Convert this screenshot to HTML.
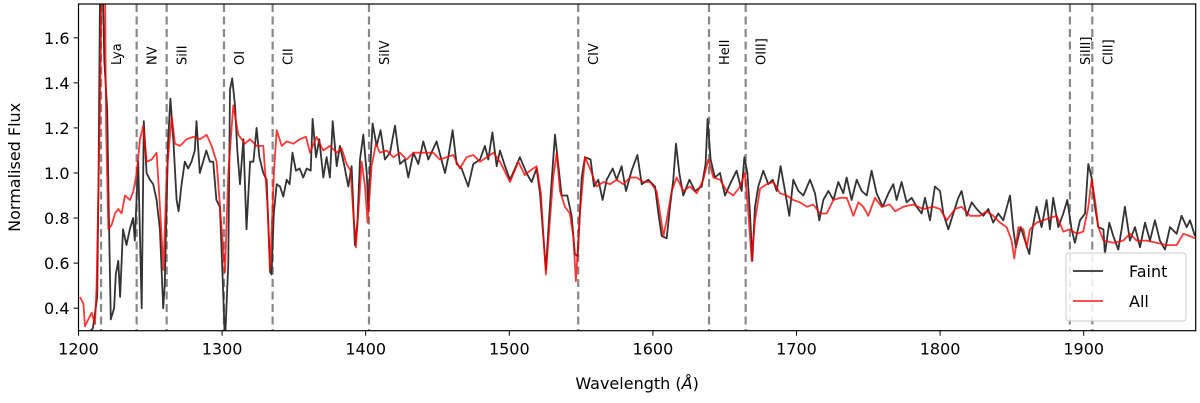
<!DOCTYPE html>
<html><head><meta charset="utf-8"><style>
html,body{margin:0;padding:0;background:#fff;}
svg{display:block;font-family:"DejaVu Sans","Liberation Sans",sans-serif;}
</style></head><body>
<svg id="chart" width="1200" height="403" viewBox="0 0 1200 403" xmlns="http://www.w3.org/2000/svg">
<defs><clipPath id="plotclip"><rect x="78.5" y="4" width="1117.2" height="326.7"/></clipPath></defs>
<g id="lines-layer"></g>
<g id="series-layer" clip-path="url(#plotclip)"></g>
<g id="axes-layer"></g>
</svg>
<script>
const xDomain = [1200, 1978];
const yDomain = [0.30, 1.75];
const xTicks = [1200, 1300, 1400, 1500, 1600, 1700, 1800, 1900];
const yTicks = [0.4, 0.6, 0.8, 1.0, 1.2, 1.4, 1.6];
const lineNames = ["Lya","NV","SiII","OI","CII","SiIV","CIV","HeII","OIII]","SiIII]","CIII]"];
const lineWaves = [1215.7,1240.5,1261.4,1301.3,1335.2,1402.3,1548,1639.1,1664.6,1890.4,1906];
const faintWave = [1200,1205,1210,1213,1214,1215,1217,1218,1220,1221,1222.5,1224.8,1226,1227.7,1229,1231,1233.4,1235.7,1238,1239.2,1241.6,1244,1245.5,1247.4,1249.7,1252,1254.4,1256.7,1259,1260,1262.5,1264,1266,1268.3,1269.7,1271.8,1274,1276.4,1278.7,1281,1282.2,1284.5,1286.8,1289,1291.5,1293.8,1296,1298.5,1300.3,1302,1304.3,1305.5,1307,1309,1310.6,1312.5,1314.8,1317,1319.5,1321.8,1324,1326,1328.7,1331,1333.4,1334.5,1336,1338,1340.3,1342.6,1345,1347,1349,1351.4,1354,1356.5,1358.9,1361.7,1363,1365.4,1367.7,1370.5,1372.8,1375.1,1377,1379.8,1382,1384.9,1387.9,1390.2,1392.5,1394.2,1396,1398.3,1400.7,1401.8,1403,1404.8,1407.6,1410.4,1413.4,1416.9,1420.4,1423.9,1427.3,1429.7,1433.2,1436.6,1440.1,1443.6,1449.4,1455.2,1457.5,1460.5,1463.3,1466.8,1471.4,1474.9,1479.6,1483,1485.4,1488.2,1491.2,1493.5,1497,1500.5,1504,1507.4,1512,1515.5,1519,1521.4,1523.7,1525.5,1527.9,1530.2,1531.8,1533.7,1536.4,1540.4,1543.4,1545.7,1547.6,1550.4,1552.7,1556.6,1559,1562,1565,1567.8,1572,1574.8,1578.2,1581.3,1585.2,1589.2,1592.2,1596.8,1601.5,1603.8,1606.1,1609.6,1611.9,1614.2,1616.1,1618.4,1621.2,1625.4,1629.3,1634,1636.7,1638.1,1640.2,1643.2,1646.7,1650.2,1653.7,1658.3,1661.8,1663.7,1665.8,1667.6,1669.2,1671.1,1673.4,1676.9,1680.4,1683.4,1686.2,1688.9,1692,1695,1697.8,1701.3,1704.8,1709.4,1712.9,1715.9,1718.7,1722.2,1725.7,1729.1,1732.6,1734.9,1738.4,1741.9,1745.4,1748.9,1752.3,1755.8,1760,1764,1767.4,1769.7,1773.2,1776.7,1780.2,1783.7,1787.1,1789.5,1793,1796.4,1799.9,1802.2,1805.7,1809.2,1812.7,1815,1818.5,1822,1825.5,1830.1,1833.6,1837,1840.5,1844,1848.7,1851,1852.8,1856.1,1859.1,1862.1,1864.5,1867.2,1870.7,1874.2,1876.5,1878.8,1882.3,1885.8,1888.6,1891.6,1893.9,1897.4,1900.9,1903.2,1905.5,1907.9,1910.2,1913.7,1914.8,1917.8,1920.6,1924.1,1926.4,1928.7,1932.2,1935.7,1939.2,1942.7,1946.2,1949.6,1953.1,1956.6,1960.1,1964.7,1968.2,1971.7,1974,1977.5];
const faintFlux = [0.29,0.28,0.31,0.45,1.0,1.8,1.8,1.5,1.28,0.85,0.35,0.40,0.55,0.61,0.45,0.75,0.68,0.75,0.80,0.70,1.05,0.40,1.23,1.0,0.97,0.95,0.88,0.75,0.40,0.50,1.15,1.33,1.15,0.88,0.83,0.95,1.05,1.02,1.05,1.10,1.23,1.0,1.05,1.10,1.05,1.05,0.88,0.85,0.55,0.25,0.60,1.37,1.42,1.30,1.10,0.95,1.15,0.75,1.05,1.05,1.20,1.07,1.0,0.97,0.56,0.55,0.82,0.95,0.94,0.895,0.97,0.95,1.09,1.01,1.02,0.98,1.02,1.01,1.24,1.07,1.15,0.98,1.07,0.98,1.23,1.03,1.12,1.04,0.94,1.03,0.68,0.78,1.06,1.17,1.0,0.84,1.01,1.22,1.12,1.19,1.06,1.09,1.21,1.04,1.06,0.98,1.09,1.04,1.14,1.06,1.14,1.0,1.07,1.19,1.04,1.02,0.94,1.04,1.06,1.12,1.06,1.18,1.03,1.10,1.03,0.97,1.02,1.07,1.0,0.96,1.02,0.91,0.72,0.57,0.82,1.03,1.17,1.06,0.90,0.90,0.81,0.64,0.63,0.98,1.07,1.06,0.94,0.97,0.88,0.97,1.02,0.97,1.03,0.92,1.01,1.08,0.95,0.97,0.94,0.82,0.72,0.71,0.85,0.97,1.13,1.0,0.90,0.97,0.92,0.94,1.04,1.24,1.06,0.98,1.0,0.90,0.95,1.01,0.92,1.07,1.0,0.82,0.61,0.85,0.94,1.01,0.95,0.97,0.92,1.03,0.92,0.81,0.97,0.92,0.90,0.97,0.91,0.79,0.88,0.92,0.88,0.96,0.91,0.98,0.88,0.97,0.92,0.90,1.01,0.91,0.85,0.91,0.95,0.88,0.96,0.87,0.89,0.85,0.82,0.89,0.79,0.94,0.92,0.82,0.75,0.82,0.89,0.92,0.81,0.87,0.84,0.81,0.84,0.78,0.82,0.79,0.90,0.75,0.67,0.76,0.70,0.64,0.76,0.85,0.76,0.88,0.75,0.89,0.76,0.82,0.88,0.75,0.69,0.79,0.82,1.04,0.98,0.85,0.76,0.75,0.64,0.78,0.72,0.66,0.75,0.85,0.70,0.76,0.67,0.78,0.70,0.79,0.70,0.66,0.76,0.73,0.81,0.76,0.79,0.72];
const allWave = [1201,1203.4,1204.5,1206.8,1209.2,1211.5,1212.6,1215,1216.1,1218.5,1219.2,1220.8,1223.1,1225.4,1227.7,1230,1232.4,1235.9,1238.2,1240.5,1242.8,1245.1,1247.5,1251,1254.4,1256.3,1259.1,1261.4,1264.9,1267.2,1270.7,1275.3,1280,1284.6,1289.2,1292.7,1296.2,1299.7,1302,1304.3,1307.8,1311.3,1315.9,1319.4,1324,1328.7,1331.7,1333.4,1336.1,1338,1341.5,1345,1349.6,1354.2,1358.4,1361.2,1365.8,1370.5,1375.1,1379.8,1383.2,1386.7,1389.5,1391.4,1393.2,1395.1,1397.2,1399.5,1401.3,1404.1,1407.2,1409.9,1414.6,1419.2,1423.9,1428.5,1433.2,1440.1,1447.1,1451.7,1456.4,1461,1465.6,1470.3,1474.9,1479.6,1484.2,1488.9,1493.5,1500.5,1506.3,1510.9,1514.4,1519,1522,1523.7,1525.5,1527.9,1530.6,1533,1535.3,1538.8,1542.2,1544.6,1546.4,1549.2,1552.7,1556.2,1560.8,1565.5,1570.1,1574.8,1579.4,1584.1,1588.7,1593.3,1598,1602.6,1605,1607.3,1609.6,1613.1,1616.6,1621.2,1625.8,1630.5,1635.1,1638.6,1642.1,1646.7,1651.4,1656,1660.7,1664.1,1666.5,1668.8,1671.1,1674.6,1679.2,1683.9,1688.5,1693.2,1697.8,1702.4,1707.1,1711.7,1716.4,1721,1725.7,1730.3,1735,1739.6,1743.1,1746.5,1750,1754.7,1759.3,1765.1,1768.6,1774.4,1781.3,1788.3,1795.3,1799.9,1804.6,1810.4,1815,1820.8,1827.8,1832.4,1837,1841.7,1846.3,1849.8,1851.7,1854.5,1858,1860.3,1862.6,1867.2,1871.9,1876.5,1881.2,1885.8,1890.4,1895.1,1899.7,1903.2,1905.5,1907.9,1910.2,1913.7,1920.6,1927.6,1932.2,1936.9,1943.8,1950.8,1957.8,1964.7,1969.4,1974,1977.5];
const allFlux = [0.45,0.42,0.32,0.35,0.38,0.33,0.5,1.3,1.8,1.8,1.2,0.75,0.77,0.82,0.84,0.82,0.9,0.88,0.92,1.0,1.15,1.21,1.05,1.06,1.09,0.9,0.57,1.0,1.25,1.13,1.12,1.15,1.16,1.15,1.17,1.12,1.05,0.75,0.56,1.0,1.3,1.17,1.13,1.15,1.12,1.12,0.85,0.57,1.0,1.19,1.12,1.14,1.13,1.15,1.16,1.09,1.16,1.10,1.12,1.09,1.11,1.04,1.01,0.82,0.67,0.85,1.05,0.94,0.78,1.03,1.13,1.09,1.10,1.07,1.09,1.06,1.09,1.09,1.09,1.06,1.07,1.08,1.02,1.07,1.08,1.05,1.07,1.09,1.05,0.96,1.05,0.99,1.01,1.03,0.91,0.73,0.55,0.76,0.98,1.09,0.92,0.85,0.82,0.72,0.52,0.82,1.07,1.02,0.94,0.96,0.95,0.97,0.95,0.98,0.98,0.96,0.96,0.92,0.82,0.72,0.79,0.92,0.98,0.92,0.94,0.91,0.97,1.06,0.98,0.97,0.92,0.90,0.94,1.0,0.82,0.61,0.79,0.93,0.95,0.96,0.91,0.90,0.88,0.87,0.85,0.86,0.82,0.82,0.88,0.89,0.89,0.81,0.87,0.85,0.81,0.89,0.85,0.86,0.83,0.85,0.86,0.84,0.85,0.84,0.79,0.84,0.85,0.81,0.81,0.83,0.81,0.78,0.76,0.70,0.62,0.76,0.75,0.67,0.75,0.78,0.79,0.80,0.81,0.74,0.75,0.73,0.74,0.85,0.97,0.88,0.76,0.70,0.69,0.70,0.73,0.70,0.70,0.69,0.68,0.68,0.73,0.72,0.71];

const L=78.5, R=1195.7, T=4, B=330.7;
const NS="http://www.w3.org/2000/svg";
function xs(v){return L+(v-xDomain[0])/(xDomain[1]-xDomain[0])*(R-L);}
function ys(v){return B-(v-yDomain[0])/(yDomain[1]-yDomain[0])*(B-T);}
function mk(tag,attrs,parent){const e=document.createElementNS(NS,tag);for(const k in attrs)e.setAttribute(k,attrs[k]);parent.appendChild(e);return e;}

const linesG=document.getElementById('lines-layer');
lineWaves.forEach((w,i)=>{
  const x=xs(w);
  const ln=mk('line',{x1:x,x2:x,y1:T,y2:B,stroke:'#888','stroke-width':2.2,'stroke-dasharray':'8,4.5'},linesG);
  
  
  const t=mk('text',{transform:`translate(${x+20},65) rotate(-90)`,'font-size':13,fill:'#000'},linesG);
  t.textContent=lineNames[i];
  
  
});

const sG=document.getElementById('series-layer');
function pts(wv,fl){return wv.map((w,i)=>xs(w).toFixed(1)+','+ys(fl[i]).toFixed(1)).join(' ');}
const pf=mk('polyline',{points:pts(faintWave,faintFlux),fill:'none',stroke:'#333','stroke-width':1.8,'stroke-linejoin':'round'},sG);


const pa=mk('polyline',{points:pts(allWave,allFlux),fill:'none',stroke:'rgba(255,0,0,0.78)','stroke-width':1.8,'stroke-linejoin':'round'},sG);



const aG=document.getElementById('axes-layer');
const frame=mk('rect',{x:L,y:T,width:R-L,height:B-T,fill:'none',stroke:'#000','stroke-width':1.2},aG);


xTicks.forEach(v=>{
  const x=xs(v);
  mk('line',{x1:x,x2:x,y1:B,y2:B+5,stroke:'#000','stroke-width':1},aG);
  const t=mk('text',{x:x,y:B+24,'text-anchor':'middle','font-size':16,fill:'#000'},aG);
  t.textContent=v;
  
  
});
yTicks.forEach(v=>{
  const y=ys(v);
  mk('line',{x1:L-5,x2:L,y1:y,y2:y,stroke:'#000','stroke-width':1},aG);
  const t=mk('text',{x:L-9,y:y+6,'text-anchor':'end','font-size':16,fill:'#000'},aG);
  t.textContent=v.toFixed(1);
  
  
});
const xt=mk('text',{x:(L+R)/2,y:389,'text-anchor':'middle','font-size':16,fill:'#000'},aG);
xt.innerHTML='Wavelength (<tspan font-style="italic">Å</tspan>)';


const yt=mk('text',{transform:`translate(20,${(T+B)/2}) rotate(-90)`,'text-anchor':'middle','font-size':16,fill:'#000'},aG);
yt.textContent='Normalised Flux';



const lg=mk('g',{},aG);


mk('rect',{x:1066,y:253,width:120,height:68,rx:3,fill:'rgba(255,255,255,0.85)',stroke:'#ccc','stroke-width':1},lg);
const e1=mk('g',{},lg);


mk('line',{x1:1073,x2:1103,y1:271,y2:271,stroke:'#333','stroke-width':1.8},e1);
mk('text',{x:1129,y:277,'font-size':16,fill:'#000'},e1).textContent='Faint';
const e2=mk('g',{},lg);


mk('line',{x1:1073,x2:1103,y1:301,y2:301,stroke:'rgba(255,0,0,0.78)','stroke-width':1.8},e2);
mk('text',{x:1129,y:307,'font-size':16,fill:'#000'},e2).textContent='All';
</script>
</body></html>
